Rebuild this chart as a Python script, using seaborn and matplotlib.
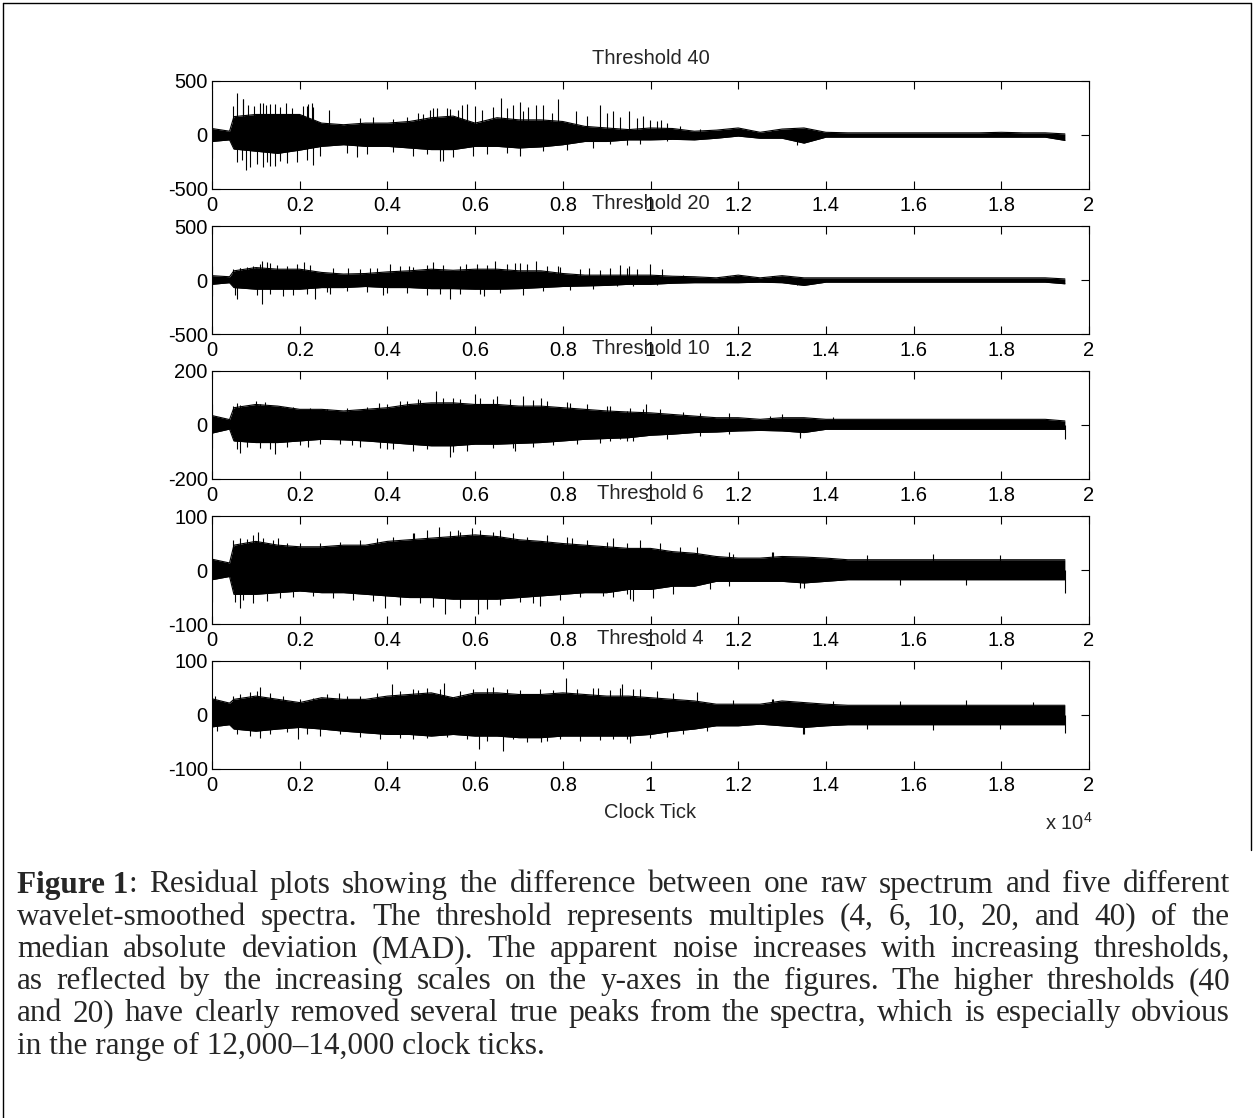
import matplotlib
matplotlib.use("Agg")
import matplotlib.pyplot as plt
import seaborn as sns
import pandas as pd
from matplotlib.lines import Line2D

clock = [0, 400] + list(range(500, 19001, 500)) + [19450]

thresholds = [40, 20, 10, 6, 4]
y_limits = [500, 500, 200, 100, 100]

# upper / lower edge of the dense residual band, per threshold
t40_upper = [60, 35, 170, 190, 190, 190, 110, 95, 110, 110, 125, 160, 175, 110, 160, 140, 140, 125, 80, 65,
             50, 65, 60, 35, 45, 65, 25, 55, 65, 25, 20, 20, 20, 20, 20, 20, 20, 25, 20, 20, 10]
t40_lower = [-60, -45, -130, -150, -170, -140, -105, -90, -105, -105, -120, -135, -135, -105, -105, -120, -110, -90,
             -60, -60, -45, -45, -40, -45, -30, -10, -30, -30, -75, -20, -20, -20, -20, -20, -20, -20, -20, -20,
             -20, -20, -50]
t20_upper = [40, 30, 85, 115, 100, 100, 70, 55, 60, 75, 85, 100, 90, 100, 100, 85, 85, 60, 45, 45,
             45, 45, 35, 30, 20, 45, 20, 40, 20, 20, 20, 20, 20, 20, 20, 20, 20, 20, 20, 20, 10]
t20_lower = [-40, -25, -70, -85, -85, -85, -70, -70, -60, -70, -70, -80, -80, -85, -85, -80, -70, -60, -55, -50,
             -40, -40, -30, -25, -25, -25, -20, -25, -50, -20, -20, -20, -20, -20, -20, -20, -20, -20, -20, -20, -35]
t10_upper = [35, 20, 64, 76, 70, 58, 58, 52, 58, 64, 76, 82, 82, 76, 76, 70, 70, 64, 58, 52,
             48, 45, 39, 33, 27, 27, 21, 27, 27, 21, 21, 21, 21, 21, 21, 21, 21, 21, 21, 21, 15]
t10_lower = [-30, -15, -59, -65, -65, -59, -53, -55, -59, -65, -71, -77, -77, -71, -71, -68, -65, -59, -53, -50,
             -47, -38, -34, -28, -26, -22, -20, -22, -28, -16, -16, -16, -16, -16, -16, -16, -16, -16, -16, -16, -16]
t6_upper = [20, 13, 46, 53, 46, 43, 43, 46, 46, 53, 56, 59, 62, 65, 62, 56, 53, 49, 46, 43,
            40, 40, 34, 31, 25, 22, 22, 25, 24, 22, 19, 19, 19, 19, 19, 19, 19, 19, 19, 19, 19]
t6_lower = [-18, -12, -45, -45, -42, -39, -42, -42, -45, -48, -51, -51, -54, -54, -54, -51, -48, -45, -42, -42,
            -36, -36, -30, -30, -21, -21, -21, -21, -24, -21, -18, -18, -18, -18, -18, -18, -18, -18, -18, -18, -18]
t4_upper = [30, 22, 29, 35, 29, 23, 32, 29, 29, 35, 38, 41, 32, 41, 41, 38, 38, 41, 38, 35,
            35, 32, 29, 26, 20, 20, 20, 26, 23, 20, 18, 18, 18, 18, 18, 18, 18, 18, 18, 18, 18]
t4_lower = [-22, -18, -26, -30, -26, -23, -26, -30, -33, -36, -36, -39, -36, -39, -39, -42, -42, -39, -39, -39,
            -39, -36, -30, -26, -20, -20, -17, -20, -23, -20, -18, -18, -18, -18, -18, -18, -18, -18, -18, -18, -18]

# spikes standing out of the band (clock tick, residual value)
t40_spike_x = [0, 0, 471, 562, 580, 676, 700, 714, 780, 828, 866, 957, 1018, 1094, 1170, 1170, 1231, 1246, 1322,
               1322, 1440, 1440, 1550, 1550, 1690, 1702, 1816, 1930, 2082, 2158, 2160, 2196, 2272, 2300, 2300,
               2462, 2670, 3070, 3300, 3374, 3526, 3678, 4134, 4134, 4438, 4590, 4700, 4818, 4894, 4970, 5050,
               5122, 5200, 5274, 5350, 5426, 5502, 5616, 5700, 5806, 5958, 6000, 6148, 6262, 6414, 6600, 6718,
               6718, 6870, 7020, 7022, 7098, 7212, 7400, 7550, 7554, 7744, 7880, 8086, 8310, 8542, 8694, 8850,
               8998, 9074, 9140, 9302, 9454, 9510, 9682, 9758, 9834, 9990, 10138, 10250, 10366, 10366, 10670,
               11126, 11803, 12776, 13330, 13406]
t40_spike_y = [420, -210, 270, -250, 390, -230, 330, 330, -320, 280, -300, 270, -270, 300, 300, -300, 280, -250, 290,
               -290, 290, -290, 260, -240, 300, -260, 250, -250, 270, -230, 270, 290, 300, 260, -280,
               -190, 235, -170, -200, 160, -180, 170, 150, -160, 170, -190, 200, 190, -180, 230, 250,
               250, -245, -240, 250, 240, -200, 230, 280, 290, -190, 265, 230, -180, 260, 345, 250,
               -170, 280, 310, -190, 220, 260, 280, 280, -150, 200, 330, -140, 220, 180, -120, 280,
               200, -80, 220, 170, -90, 220, 160, -80, 180, 140, 130, 140, 110, -60, 80,
               60, 50, 50, -90, 50]
t20_spike_x = [0, 0, 471, 524, 580, 638, 640, 790, 942, 1018, 1094, 1130, 1130, 1250, 1322, 1322, 1474, 1626,
               1702, 1854, 1930, 2100, 2158, 2234, 2350, 2614, 2700, 2766, 3070, 3110, 3374, 3526, 3600, 3754,
               3900, 3982, 4060, 4286, 4438, 4500, 4590, 4894, 4894, 5046, 5198, 5274, 5430, 5654, 5654, 5800,
               6034, 6110, 6200, 6262, 6460, 6566, 6718, 6900, 7022, 7100, 7174, 7400, 7554, 7630, 7900, 7934,
               8162, 8390, 8600, 8694, 8846, 9074, 9226, 9300, 9302, 9454, 9515, 9606, 9682, 9986, 10138, 10252,
               10746, 11803, 12776, 13330]
t20_spike_y = [130, -150, 100, -140, -180, 110, 110, 120, 130, -140, 150, 175, -225, 170, 160, -130, 140, -150,
               130, -140, 145, 165, -130, 140, -180, -110, -130, 110, -100, 115, 100, -110, 110, 110,
               -140, -120, 145, 130, -120, 130, 120, 140, -140, 165, -130, 140, -180, 130, -130, 150,
               150, -130, -150, 140, 180, -120, 150, 160, 160, -140, 150, 175, -100, 130, 130, 120,
               -90, 100, 110, -80, 90, 110, -60, 135, 95, 110, 130, -60, 100, 145, -45, 100,
               50, 35, 40, -50]
t10_spike_x = [0, 0, 471, 562, 580, 638, 640, 790, 866, 1000, 1094, 1094, 1200, 1322, 1322, 1440, 1626, 1702,
               1854, 2006, 2200, 2234, 2462, 2614, 2918, 3070, 3200, 3374, 3526, 3800, 3830, 3982, 4000, 4134,
               4290, 4438, 4590, 4700, 4742, 4894, 5110, 5274, 5430, 5500, 5502, 5654, 5806, 6000, 6110, 6414,
               6414, 6500, 6794, 6870, 6900, 7100, 7326, 7326, 7500, 7630, 7782, 8100, 8162, 8314, 8542, 8846,
               9000, 9074, 9074, 9302, 9454, 9454, 9530, 9606, 9834, 9900, 10214, 10366, 10746, 11126, 11126,
               11800, 11800, 12722, 13000, 13400, 13406, 14166, 19450]
t10_spike_y = [76, -84, 70, -90, 82, 75, -102, -80, 72, 88, 78, -85, 84, 75, -90, -108, 68, -80,
               65, -75, -80, 62, -70, 60, -70, 62, -75, -80, 68, 80, -85, 78, -90, -90,
               88, 90, -95, 97, 92, -90, 125, 100, -120, 100, -100, 95, -95, 113, 100, 98,
               -85, 107, 95, -85, -95, 107, 92, -80, 100, 88, -75, 85, 80, -70, 78, -65,
               70, 70, -60, -50, 52, -60, 62, -58, 60, 76, 58, -50, 50, 45, -40,
               45, -34, 35, 39, -47, -40, 30, -53]
t6_spike_x = [0, 0, 486, 524, 638, 640, 714, 790, 942, 942, 1060, 1170, 1246, 1398, 1500, 1550, 1702, 1854,
              2006, 2310, 2462, 2766, 2918, 3222, 3374, 3678, 3754, 3940, 4134, 4286, 4590, 4600, 4742, 4894,
              5046, 5180, 5310, 5426, 5620, 5654, 5654, 5920, 6070, 6110, 6262, 6414, 6566, 6570, 6870, 7022,
              7174, 7326, 7480, 7630, 7934, 8086, 8200, 8390, 8542, 8922, 8998, 9150, 9150, 9454, 9454, 9530,
              9606, 9758, 10062, 10214, 10518, 10670, 11050, 11354, 11800, 11800, 11886, 12780, 12798, 13406,
              13500, 14926, 15686, 16446, 17206, 17966, 19450]
t6_spike_y = [56, -60, 55, -60, 60, -70, -55, 58, 65, -62, 71, 60, -58, 55, 59, -52, 50, -50,
              50, -48, 50, -52, 52, -55, 55, -58, 60, -70, 62, -65, 68, 68, -62, 75,
              -68, 80, -82, 72, 74, 70, -70, 77, -82, 75, -72, 70, -65, 74, 68, -60,
              62, -62, -67, 64, -55, 62, 60, -50, 55, -48, 52, 60, -50, 50, -45, -54,
              -58, 55, -52, 50, -45, 42, 43, -35, 34, -30, 30, 34, 34, -33,
              -33, 28, -28, 30, -28, 28, -42]
t4_spike_x = [68, 106, 486, 562, 638, 866, 866, 1018, 1090, 1090, 1322, 1322, 1626, 1702, 1970, 2006, 2158,
              2310, 2462, 2614, 2900, 2918, 3070, 3374, 3374, 3754, 3830, 4100, 4286, 4286, 4590, 4590, 4700,
              4894, 4894, 5198, 5290, 5350, 5654, 5806, 5958, 6090, 6262, 6262, 6410, 6640, 6718, 6870, 7022,
              7174, 7478, 7500, 7630, 7782, 7934, 8070, 8314, 8390, 8694, 8800, 8846, 9074, 9150, 9302, 9340,
              9454, 9530, 9606, 9758, 9986, 10138, 10366, 10518, 10746, 11050, 11278, 11886, 12780, 12798,
              13482, 13500, 14166, 14926, 15686, 16446, 17206, 17966, 18726, 19450]
t4_spike_y = [35, -30, 35, -35, 38, 42, -38, 45, 52, -42, 40, -35, 35, -32, -44, 30, -35,
              32, -38, 38, 40, -35, 35, 35, -40, 40, -45, 57, 45, -42, 48, -45, 47,
              50, -42, 48, 60, -40, 45, -45, 48, -63, 50, -48, 51, -66, 48, -45, 47,
              -50, 48, -50, -48, 46, -45, 69, 48, -48, 50, 50, -46, 46, -45, 50, 57,
              -45, -51, 48, 48, -42, 45, -40, 40, -35, 42, -30, 28, 29, 30,
              -36, -36, 26, -26, 26, -27, 28, -26, 25, -33]

uppers = [t40_upper, t20_upper, t10_upper, t6_upper, t4_upper]
lowers = [t40_lower, t20_lower, t10_lower, t6_lower, t4_lower]
spikes_x = [t40_spike_x, t20_spike_x, t10_spike_x, t6_spike_x, t4_spike_x]
spikes_y = [t40_spike_y, t20_spike_y, t10_spike_y, t6_spike_y, t4_spike_y]

xtick_vals = list(range(0, 20001, 2000))
xtick_labels = ["0", "0.2", "0.4", "0.6", "0.8", "1", "1.2", "1.4", "1.6", "1.8", "2"]

caption_lines = [
    ": Residual plots showing the difference between one raw spectrum and five different",
    "wavelet-smoothed spectra. The threshold represents multiples (4, 6, 10, 20, and 40) of the",
    "median absolute deviation (MAD). The apparent noise increases with increasing thresholds,",
    "as reflected by the increasing scales on the y-axes in the figures. The higher thresholds (40",
    "and 20) have clearly removed several true peaks from the spectra, which is especially obvious",
    "in the range of 12,000\u201314,000 clock ticks.",
]

sns.set_style("ticks")
plt.rcParams['font.family'] = ['Liberation Sans', 'DejaVu Sans']
plt.rcParams['mathtext.fontset'] = 'custom'
plt.rcParams['mathtext.rm'] = 'Liberation Sans'

W, H = 1253, 1118
FS = 14.5
fig = plt.figure(figsize=(W / 100, H / 100), dpi=100)
fig.patch.set_facecolor('white')

axes_top_px = [81, 226, 371, 516, 661]
for i, t in enumerate(thresholds):
    top = axes_top_px[i]
    ax = fig.add_axes([212 / W, 1 - (top + 108) / H, 877 / W, 108 / H])
    df = pd.DataFrame({'clock': clock, 'upper': uppers[i], 'lower': lowers[i]})
    ax.fill_between(df['clock'], df['lower'], df['upper'], color='black', linewidth=0)
    sns.lineplot(data=df, x='clock', y='upper', ax=ax, color='black', linewidth=0.8)
    sns.lineplot(data=df, x='clock', y='lower', ax=ax, color='black', linewidth=0.8)
    ax.vlines(spikes_x[i], 0, spikes_y[i], color='black', linewidth=0.8)

    L = y_limits[i]
    ax.set_xlim(0, 20000)
    ax.set_ylim(-L, L)
    ax.set_xticks(xtick_vals)
    ax.set_xticklabels(xtick_labels)
    ax.set_yticks([-L, 0, L])
    ax.set_yticklabels([str(-L), "0", str(L)])
    ax.tick_params(direction='in', top=True, right=True, length=6, width=0.8,
                   labelsize=FS, pad=3, colors='black')
    ax.tick_params(axis='x', pad=5)
    for s in ax.spines.values():
        s.set_linewidth(0.8)
        s.set_color('black')
    ax.set_xlabel('')
    ax.set_ylabel('')
    ax.set_title(f"Threshold {t}", fontsize=FS, pad=12.5)

ax.set_xlabel("Clock Tick", fontsize=FS, labelpad=6)
fig.text(1069 / W, 1 - 823 / H, r"x 10$^4$", fontsize=FS, ha='center', va='center')

# caption, justified between x = 17 and x = 1230 like the source document
serif = ['Liberation Serif', 'DejaVu Serif']
CFS = 22.5
left_px, right_px = 17, 1230
y0, dy = 885, 32.2
renderer = fig.canvas.get_renderer()


def text_width(s, **kw):
    tt = fig.text(0, 0, s, family=serif, fontsize=CFS, **kw)
    w = tt.get_window_extent(renderer=renderer).width
    tt.remove()
    return w


def put_justified(line, x_start, y_px):
    words = line.split(' ')
    widths = [text_width(w) for w in words]
    gap = (right_px - x_start - sum(widths)) / (len(words) - 1)
    x = x_start
    for w, wd in zip(words, widths):
        fig.text(x / W, 1 - y_px / H, w, family=serif, fontsize=CFS, va='center', ha='left')
        x += wd + gap


bold_w = text_width("Figure 1", weight='bold')
fig.text(left_px / W, 1 - y0 / H, "Figure 1", family=serif, weight='bold',
         fontsize=CFS, va='center', ha='left')
put_justified(caption_lines[0], left_px + bold_w, y0)
for k in range(1, 5):
    put_justified(caption_lines[k], left_px, y0 + dy * k)
fig.text(left_px / W, 1 - (y0 + dy * 5) / H, caption_lines[5], family=serif,
         fontsize=CFS, va='center', ha='left')

# page frame
fig.add_artist(Line2D([2.5 / W, 2.5 / W], [0, 1 - 2.5 / H], color='black', linewidth=1))
fig.add_artist(Line2D([2.5 / W, 1250.5 / W], [1 - 2.5 / H, 1 - 2.5 / H], color='black', linewidth=1))
fig.add_artist(Line2D([1250.5 / W, 1250.5 / W], [1 - 2.5 / H, 1 - 850 / H], color='black', linewidth=1))

fig.savefig("out.png", dpi=100, facecolor='white')
